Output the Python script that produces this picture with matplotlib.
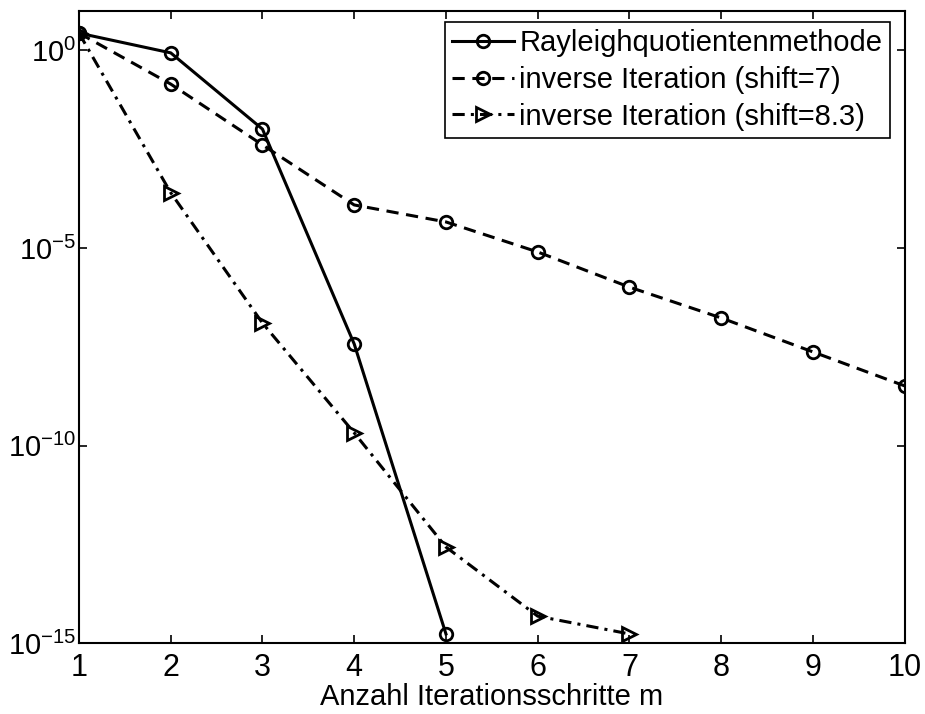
import matplotlib
matplotlib.use("Agg")
import matplotlib.pyplot as plt
import numpy as np

plt.rcParams.update({
    "font.family": ["Liberation Sans", "DejaVu Sans"],
    "font.size": 21,
    "mathtext.default": "regular",
})

steps = np.arange(1, 11)

# log10 of the error
rayleigh_log = [0.44, -0.06, -1.99, -7.43, -14.77]
inv7_log = [0.44, -0.85, -2.39, -3.91, -4.34, -5.10, -5.99, -6.77, -7.63, -8.49]
inv83_log = [0.44, -3.60, -6.90, -9.68, -12.57, -14.32, -14.77]

labels = [
    "Rayleighquotientenmethode",
    "inverse Iteration (shift=7)",
    "inverse Iteration (shift=8.3)",
]

fig = plt.figure(figsize=(9.25, 7.14), dpi=100)
ax = fig.add_axes([0.0854, 0.0994, 0.8926, 0.8852])

ax.semilogy(steps[:len(rayleigh_log)], 10.0 ** np.array(rayleigh_log), "k-",
            marker="o", mfc="none", mew=2, ms=9, lw=2.2, label=labels[0])
ax.semilogy(steps[:len(inv7_log)], 10.0 ** np.array(inv7_log), "k--",
            marker="o", mfc="none", mew=2, ms=9, lw=2.2, label=labels[1],
            dashes=(4, 2.5))
ax.semilogy(steps[:len(inv83_log)], 10.0 ** np.array(inv83_log), "k-.",
            marker=">", mfc="none", mew=2, ms=10, lw=2.2, label=labels[2],
            dashes=(4, 2, 1, 2))

ax.set_xlim(1, 10)
ax.set_ylim(1e-15, 1e1)
ax.set_xticks(range(1, 11))
ax.set_yticks([1e0, 1e-5, 1e-10, 1e-15])
ax.yaxis.set_minor_locator(matplotlib.ticker.NullLocator())
ax.set_yticklabels([r"$10^{0}$", r"$10^{-5}$", r"$10^{-10}$", r"$10^{-15}$"])
ax.tick_params(direction="in", top=True, right=True, length=6, width=1.2)
ax.tick_params(axis="x", labelsize=22, pad=7)
ax.tick_params(axis="y", labelsize=21, pad=2)
for s in ax.spines.values():
    s.set_linewidth(1.5)

ax.set_xlabel("Anzahl Iterationsschritte m", fontsize=21, labelpad=0)

leg = ax.legend(loc="upper right", bbox_to_anchor=(0.982, 0.983), fontsize=21,
                handlelength=2.1, handletextpad=0.2, borderpad=0.25,
                labelspacing=0.3, borderaxespad=0.0, fancybox=False,
                framealpha=1)
leg.get_frame().set_edgecolor("black")
leg.get_frame().set_linewidth(1.2)

fig.savefig("out.png", dpi=100)
